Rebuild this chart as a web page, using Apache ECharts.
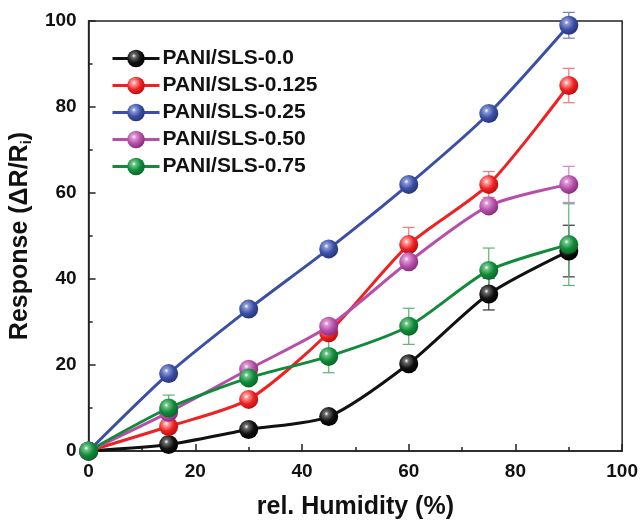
<!DOCTYPE html>
<html><head><meta charset="utf-8">
<script src="https://cdn.jsdelivr.net/npm/echarts@6/dist/echarts.min.js"></script>
<style>html,body{margin:0;padding:0;background:#fff}#c{width:641px;height:525px}</style>
</head><body><div id="c"></div>
<script>
const humidity = [0, 15, 30, 45, 60, 75, 90];
const seriesNames = ['PANI/SLS-0.0','PANI/SLS-0.125','PANI/SLS-0.25','PANI/SLS-0.50','PANI/SLS-0.75'];
const s000 = [0, 1.5, 5, 8, 20.3, 36.5, 46.5];
const s0125 = [0, 5.7, 12, 27.5, 48, 62, 85];
const s025 = [0, 18, 33, 47, 62, 78.5, 99];
const s050 = [0, 9, 19, 29, 44, 57, 62];
const s075 = [0, 10, 17, 22, 29, 42, 48];
const e000 = [0, 0, 0, 0, 0, 3.7, 6];
const e0125 = [0, 0, 0, 1, 4, 3, 4];
const e025 = [0, 0, 0, 0, 0, 0, 3];
const e050 = [0, 0, 0, 0, 1.5, 0, 4.2];
const e075 = [0, 3, 0, 3.8, 4.2, 5.2, 9.5];
const colors = ['#111111','#ee2222','#3a4fa5','#b64fa8','#118a3a'];
const lightColors = ['#6a6a6a','#ff9a9a','#8c98d6','#dd99d4','#6cc486'];
const darkColors = ['#000000','#c01010','#28367a','#8a2f80','#0a6a28'];
const errColors = ['#333333','#f27a7a','#6f7fc8','#cf86c6','#5bb377'];
const values = [s000, s0125, s025, s050, s075];
const errors = [e000, e0125, e025, e050, e075];
const xTicks = [0, 20, 40, 60, 80, 100];
const yTicks = [0, 20, 40, 60, 80, 100];

function sphere(i){
  return {type:'radial', x:0.38, y:0.35, r:0.65, colorStops:[
    {offset:0, color:'#ffffff'},
    {offset:0.18, color:lightColors[i]},
    {offset:0.6, color:colors[i]},
    {offset:1, color:darkColors[i]}]};
}

const FONT = 'Liberation Sans, Arial, sans-serif';
const series = [];
values.forEach((v,i)=>{
  series.push({
    name: seriesNames[i], type:'line', smooth:0.25, z:3+i,
    data: humidity.map((x,k)=>[x, v[k]]),
    symbol:'circle', symbolSize:19,
    lineStyle:{color:colors[i], width:3},
    itemStyle:{color:sphere(i), borderWidth:0},
    emphasis:{disabled:true}
  });
  series.push({
    type:'custom', z:2, silent:true,
    data: humidity.map((x,k)=>[x, v[k], errors[i][k]]).filter(d=>d[2]>0),
    renderItem:function(params, api){
      const x = api.value(0), y = api.value(1), e = api.value(2);
      const top = api.coord([x, y+e]), bot = api.coord([x, y-e]);
      const w = 6;
      const st = {stroke: errColors[i], lineWidth:1.2};
      return {type:'group', children:[
        {type:'line', shape:{x1:top[0], y1:top[1], x2:bot[0], y2:bot[1]}, style:st},
        {type:'line', shape:{x1:top[0]-w, y1:top[1], x2:top[0]+w, y2:top[1]}, style:st},
        {type:'line', shape:{x1:bot[0]-w, y1:bot[1], x2:bot[0]+w, y2:bot[1]}, style:st}
      ]};
    }
  });
});

const chart = echarts.init(document.getElementById('c'));
const axisFont = {fontFamily:FONT, fontWeight:'bold', fontSize:19, color:'#111'};
chart.setOption({
  animation:false,
  grid:{left:88, right:18, top:21, bottom:69, show:true, borderColor:'#222', borderWidth:1.5, backgroundColor:'transparent'},
  legend:{
    left:106, top:43, orient:'vertical', itemGap:6, itemWidth:47, itemHeight:22,
    data: seriesNames,
    lineStyle:{width:3},
    textStyle:{fontFamily:FONT, fontWeight:'bold', fontSize:21, color:'#111', padding:[0,0,0,-2]}
  },
  xAxis:{
    type:'value', min:0, max:100, interval:20,
    name:'rel. Humidity (%)', nameLocation:'middle', nameGap:44,
    nameTextStyle:{fontFamily:FONT, fontWeight:'bold', fontSize:25, color:'#111'},
    axisLine:{show:true, lineStyle:{color:'#222', width:1.5}},
    axisTick:{show:true, inside:true, length:7, lineStyle:{color:'#222', width:1.5}},
    minorTick:{show:true, splitNumber:2, length:4, lineStyle:{color:'#222', width:1.5}},
    splitLine:{show:false},
    axisLabel:Object.assign({margin:11, formatter:v=>xTicks.includes(v)?String(v):''}, axisFont)
  },
  yAxis:{
    type:'value', min:0, max:100, interval:20,
    name:'{a|Response (ΔR/R}{s|i}{a|)}', nameLocation:'middle', nameGap:52, nameRotate:90,
    nameTextStyle:{rich:{
      a:{fontFamily:FONT, fontWeight:'bold', fontSize:25, color:'#111'},
      s:{fontFamily:FONT, fontWeight:'bold', fontSize:15, color:'#111', verticalAlign:'bottom', padding:[12,0,0,0]}
    }},
    axisLine:{show:true, lineStyle:{color:'#222', width:1.5}},
    axisTick:{show:true, inside:true, length:7, lineStyle:{color:'#222', width:1.5}},
    minorTick:{show:true, splitNumber:2, length:4, lineStyle:{color:'#222', width:1.5}},
    splitLine:{show:false},
    axisLabel:Object.assign({margin:12, formatter:v=>yTicks.includes(v)?String(v):''}, axisFont)
  },
  series: series
});
</script></body></html>
